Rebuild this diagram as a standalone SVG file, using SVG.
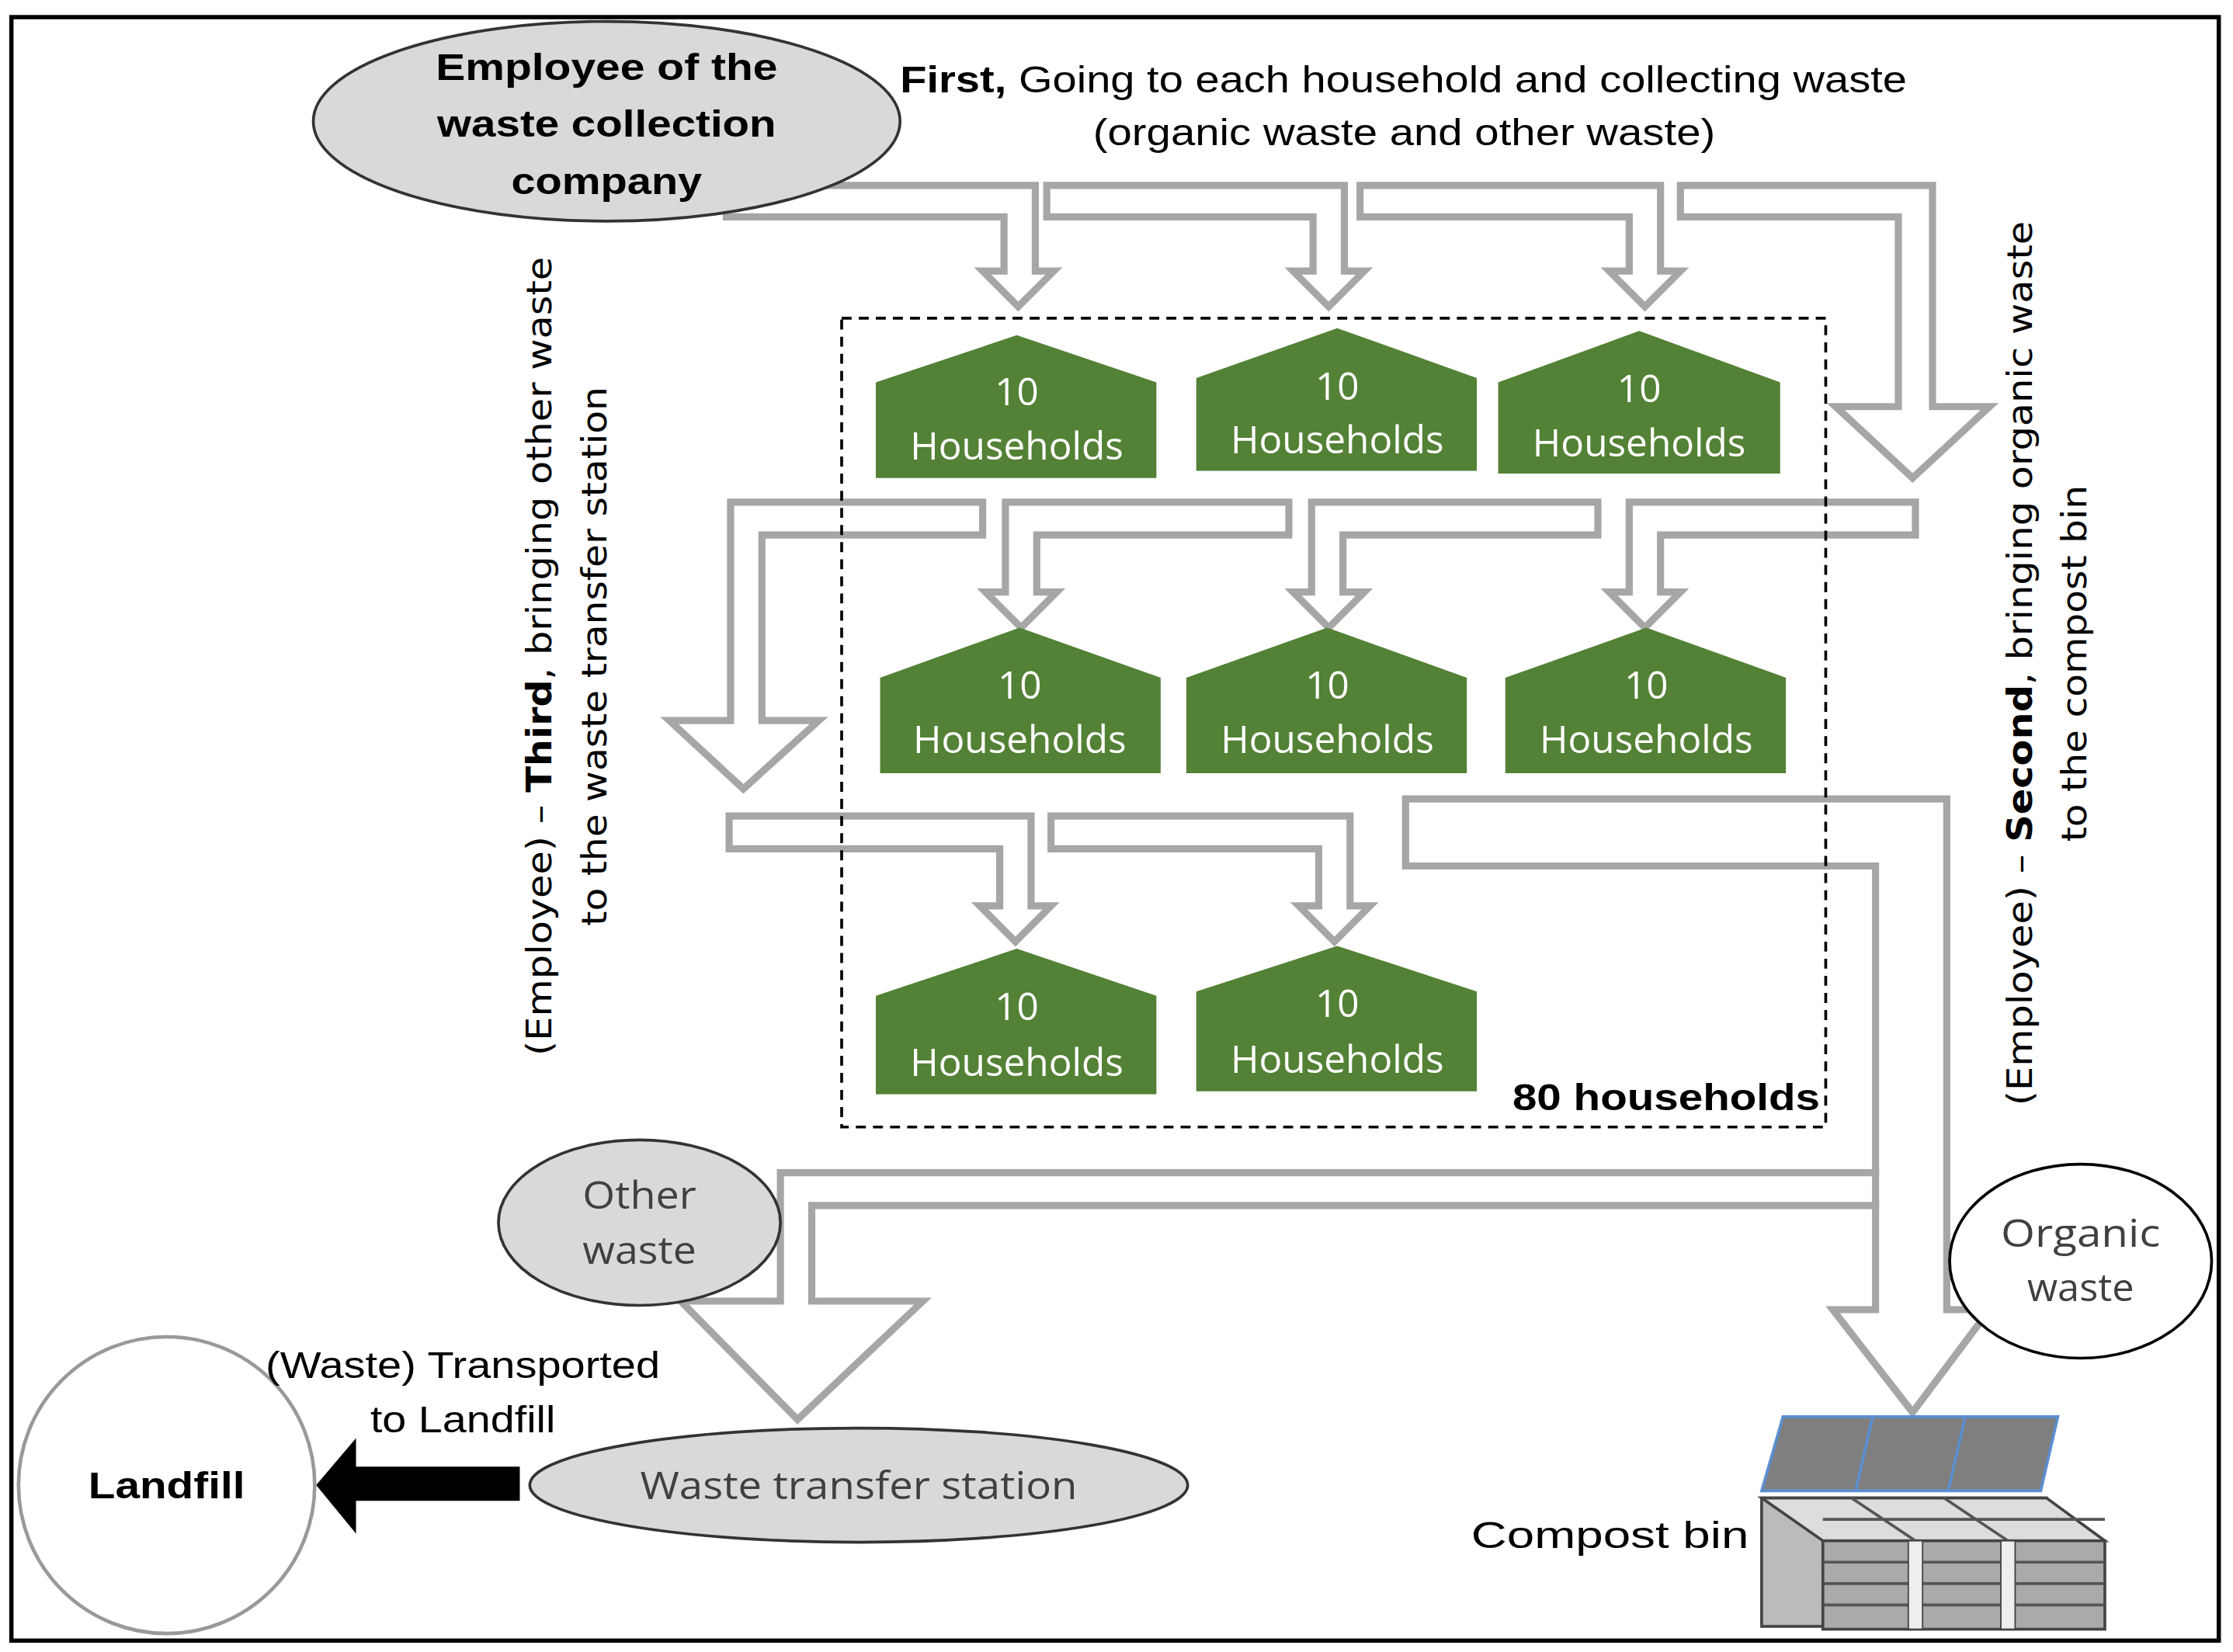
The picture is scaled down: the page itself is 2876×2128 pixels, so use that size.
<svg xmlns="http://www.w3.org/2000/svg" width="2876" height="2128" viewBox="0 0 2876 2128">
<style>
.arr{fill:#fff;stroke:#a6a6a6;stroke-width:5;stroke-linejoin:miter}
.hh{fill:#538135}
.ht{fill:#fff;font-family:"Open Sans",sans-serif;font-size:27px;text-anchor:middle}
.t{font-family:"Liberation Sans",Arial,sans-serif;font-size:26px;fill:#000}
.v{font-family:"DejaVu Sans",sans-serif;font-size:24px;fill:#000;text-anchor:middle}
.gray{fill:#d9d9d9;stroke:#333;stroke-width:2}
</style>
<rect width="2876" height="2128" fill="#fff"/>
<g transform="scale(1.8342,1.8377)">
<rect x="8" y="12" width="1550" height="1138" fill="none" stroke="#000" stroke-width="3"/>
<g id="connectors">
<path class="arr" d="M510,130 H727 V190 H740 L715,215 L690,190 H705 V152 H510 Z"/>
<path class="arr" d="M735,130 H944 V190 H958 L933,215 L908,190 H922 V152 H735 Z"/>
<path class="arr" d="M955,130 H1166 V190 H1180 L1155,215 L1130,190 H1144 V152 H955 Z"/>
<path class="arr" d="M1180,130 H1357 V285 H1397 L1343,335 L1289,285 H1333 V152 H1180 Z"/>
<path class="arr" d="M690,352 H513 V505 H470 L522,553 L575,505 H535 V375 H690 Z"/>
<path class="arr" d="M905,352 H706 V415 H692 L717,440 L742,415 H728 V375 H905 Z"/>
<path class="arr" d="M1122,352 H921 V415 H908 L933,440 L958,415 H943 V375 H1122 Z"/>
<path class="arr" d="M1345,352 H1144 V415 H1130 L1155,440 L1180,415 H1166 V375 H1345 Z"/>
<path class="arr" d="M512,572 H724 V635 H738 L713,660 L688,635 H702 V595 H512 Z"/>
<path class="arr" d="M738,572 H948 V635 H962 L937,660 L912,635 H926 V595 H738 Z"/>
<path class="arr" d="M987,560 H1367 V918 H1397 L1343,990 L1287,918 H1317 V845 H570 V912 H648 L560,995 L478,912 H548 V822 H1317 V607 H987 Z"/>
<path d="M1317,820 V847" stroke="#a6a6a6" stroke-width="5"/>
<path d="M365,1028 H250 V1008 L222,1041 L250,1075 V1052 H365 Z" fill="#000"/>
</g>
<g id="employee">
<ellipse class="gray" cx="426" cy="85" rx="206" ry="70"/>
<text class="t" x="426" y="56" text-anchor="middle" font-weight="bold" font-size="28" textLength="240" lengthAdjust="spacingAndGlyphs">Employee of the</text>
<text class="t" x="426" y="96" text-anchor="middle" font-weight="bold" font-size="28" textLength="238" lengthAdjust="spacingAndGlyphs">waste collection</text>
<text class="t" x="426" y="136" text-anchor="middle" font-weight="bold" font-size="28" textLength="134" lengthAdjust="spacingAndGlyphs">company</text>
</g>
<g id="first-label">
<text class="t" x="632" y="65" font-size="27" textLength="707" lengthAdjust="spacingAndGlyphs"><tspan font-weight="bold">First,</tspan> Going to each household and collecting waste</text>
<text class="t" x="986" y="102" text-anchor="middle" font-size="27" textLength="437" lengthAdjust="spacingAndGlyphs">(organic waste and other waste)</text>
</g>
<rect id="area" x="591" y="223" width="691" height="567" fill="none" stroke="#000" stroke-width="2" stroke-dasharray="7,5"/>
<text class="t" x="1278" y="778" text-anchor="end" font-weight="bold" font-size="27" textLength="216" lengthAdjust="spacingAndGlyphs">80 households</text>
<g id="h1"><path class="hh" d="M615,268 L714,235 L812,268 V335 H615 Z"/><text class="ht" x="714" y="284">10</text><text class="ht" x="714" y="322">Households</text></g>
<g id="h2"><path class="hh" d="M840,265 L939,230 L1037,265 V330 H840 Z"/><text class="ht" x="939" y="280">10</text><text class="ht" x="939" y="318">Households</text></g>
<g id="h3"><path class="hh" d="M1052,268 L1151,232 L1250,268 V332 H1052 Z"/><text class="ht" x="1151" y="282">10</text><text class="ht" x="1151" y="320">Households</text></g>
<g id="h4"><path class="hh" d="M618,475 L716,440 L815,475 V542 H618 Z"/><text class="ht" x="716" y="490">10</text><text class="ht" x="716" y="528">Households</text></g>
<g id="h5"><path class="hh" d="M833,475 L932,440 L1030,475 V542 H833 Z"/><text class="ht" x="932" y="490">10</text><text class="ht" x="932" y="528">Households</text></g>
<g id="h6"><path class="hh" d="M1057,475 L1156,440 L1254,475 V542 H1057 Z"/><text class="ht" x="1156" y="490">10</text><text class="ht" x="1156" y="528">Households</text></g>
<g id="h7"><path class="hh" d="M615,698 L714,665 L812,698 V767 H615 Z"/><text class="ht" x="714" y="715">10</text><text class="ht" x="714" y="754">Households</text></g>
<g id="h8"><path class="hh" d="M840,695 L939,663 L1037,695 V765 H840 Z"/><text class="ht" x="939" y="713">10</text><text class="ht" x="939" y="752">Households</text></g>
<g id="third-label" transform="translate(0,460) rotate(-90)">
<text class="v" x="0" y="387" textLength="560" lengthAdjust="spacingAndGlyphs">(Employee) – <tspan font-weight="bold">Third</tspan>, bringing other waste</text>
<text class="v" x="0" y="426" textLength="378" lengthAdjust="spacingAndGlyphs">to the waste transfer station</text>
</g>
<g id="second-label" transform="translate(0,465) rotate(-90)">
<text class="v" x="0" y="1427" textLength="620" lengthAdjust="spacingAndGlyphs">(Employee) – <tspan font-weight="bold">Second</tspan>, bringing organic waste</text>
<text class="v" x="0" y="1465" textLength="250" lengthAdjust="spacingAndGlyphs">to the compost bin</text>
</g>
<g id="other-waste">
<ellipse class="gray" cx="449" cy="857" rx="99" ry="58"/>
<text class="ht" x="449" y="847" style="fill:#404040" textLength="80" lengthAdjust="spacingAndGlyphs">Other</text>
<text class="ht" x="449" y="886" style="fill:#404040" textLength="80" lengthAdjust="spacingAndGlyphs">waste</text>
</g>
<g id="organic-waste">
<ellipse cx="1461" cy="884" rx="92" ry="68" fill="#fff" stroke="#000" stroke-width="2"/>
<text class="ht" x="1461" y="874" style="fill:#404040" textLength="112" lengthAdjust="spacingAndGlyphs">Organic</text>
<text class="ht" x="1461" y="912" style="fill:#404040" textLength="75" lengthAdjust="spacingAndGlyphs">waste</text>
</g>
<g id="landfill">
<circle cx="117" cy="1041" r="104" fill="#fff" stroke="#999" stroke-width="2.5"/>
<text class="t" x="117" y="1050" text-anchor="middle" font-weight="bold" font-size="28" textLength="110" lengthAdjust="spacingAndGlyphs">Landfill</text>
</g>
<text class="t" x="325" y="966" text-anchor="middle" font-size="28" textLength="277" lengthAdjust="spacingAndGlyphs">(Waste) Transported</text>
<text class="t" x="325" y="1004" text-anchor="middle" font-size="28" textLength="130" lengthAdjust="spacingAndGlyphs">to Landfill</text>
<g id="transfer-station">
<ellipse class="gray" cx="603" cy="1041" rx="231" ry="40"/>
<text class="ht" x="603" y="1051" style="fill:#404040" textLength="307" lengthAdjust="spacingAndGlyphs">Waste transfer station</text>
</g>
<g id="compost-bin">
<path d="M1237,1045 L1252,993 H1315 L1303,1045 Z M1303,1045 L1315,993 H1380 L1368,1045 Z M1368,1045 L1380,993 H1445 L1433,1045 Z" fill="#7f7f7f" stroke="#5b8fd0" stroke-width="2"/>
<rect x="1237" y="1050" width="200" height="90" fill="#bbb" stroke="#444" stroke-width="2"/>
<path d="M1237,1050 L1280,1080 H1478 L1437,1050 Z" fill="#ddd" stroke="#444" stroke-width="2"/>
<rect x="1280" y="1080" width="198" height="62" fill="#aaa" stroke="#444" stroke-width="2"/>
<path d="M1280,1065 H1478 M1280,1095 H1478 M1280,1110 H1478 M1280,1125 H1478 M1300,1050 L1345,1080 M1365,1050 L1410,1080" stroke="#555" stroke-width="2" fill="none"/>
<rect x="1340" y="1080" width="10" height="62" fill="#eee" stroke="#444"/>
<rect x="1405" y="1080" width="10" height="62" fill="#eee" stroke="#444"/>
<text class="t" x="1228" y="1085" text-anchor="end" font-size="30" textLength="195" lengthAdjust="spacingAndGlyphs">Compost bin</text>
</g>
</g>
</svg>
